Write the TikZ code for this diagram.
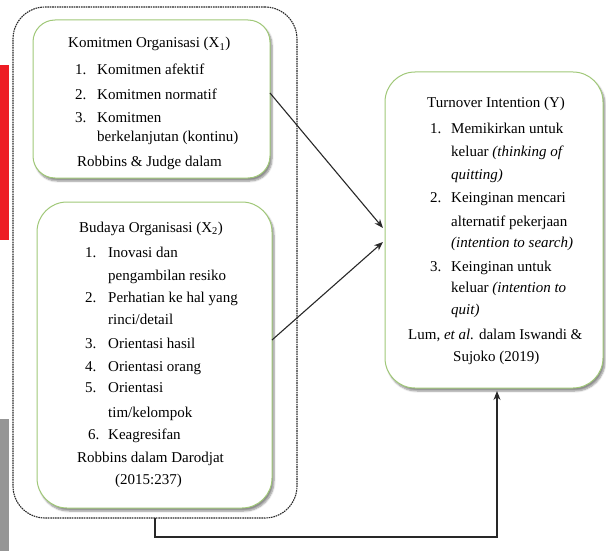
\documentclass[tikz,border=0pt]{standalone}
\usepackage{fontspec}
\setmainfont{Liberation Serif}
\usetikzlibrary{arrows.meta,shadows.blur}
\definecolor{boxgreen}{RGB}{160,200,120}
\definecolor{barred}{RGB}{237,28,36}
\definecolor{bargray}{RGB}{150,150,150}
\definecolor{linegray}{RGB}{40,40,40}
\tikzset{
  vbox/.style={draw=boxgreen, line width=1pt, fill=white, rounded corners=#1,
    blur shadow={shadow xshift=2pt, shadow yshift=-3pt, shadow blur steps=6, shadow opacity=45},
    inner sep=0, outer sep=0},
  grpbox/.style={draw=linegray, line width=1.1pt, dash pattern=on 1.6pt off 0.8pt,
    rounded corners=32pt, inner sep=0, outer sep=0},
  txt/.style={anchor=base west, inner sep=0, font=\fontsize{15}{18}\selectfont},
  conn/.style={draw=linegray, line width=1.1pt},
  arr/.style={conn, -{Stealth[length=9pt,width=7pt]}},
}
\begin{document}
\begin{tikzpicture}[x=1pt,y=-1pt]
\useasboundingbox (0,0) rectangle (606,551);
\fill[barred] (0,65) rectangle (9,240);
\fill[bargray] (0,419) rectangle (9,551);

\node[grpbox, minimum width=284pt, minimum height=511pt] (grp) at (155,262.5) {};
\node[vbox=22pt, minimum width=237pt, minimum height=158pt] (b1) at (151.5,99) {};
\node[vbox=30pt, minimum width=235pt, minimum height=306pt] (b2) at (154.5,355) {};
\node[vbox=30pt, minimum width=218pt, minimum height=316pt] (by) at (494,230) {};

% Box 1
\node[txt] (t1a) at (68,48) {Komitmen Organisasi (X\textsubscript{1})};
\node[txt] (t1b) at (75,75) {1.};
\node[txt] (t1c) at (97,75) {Komitmen afektif};
\node[txt] (t1d) at (75,100) {2.};
\node[txt] (t1e) at (97,100) {Komitmen normatif};
\node[txt] (t1f) at (75,123) {3.};
\node[txt] (t1g) at (97,123) {Komitmen};
\node[txt] (t1h) at (97,142) {berkelanjutan (kontinu)};
\node[txt] (t1i) at (77,167) {Robbins \& Judge dalam};

% Box 2
\node[txt] (t2a) at (79,232) {Budaya Organisasi (X\textsubscript{2})};
\node[txt] (t2b) at (85,257) {1.};
\node[txt] (t2c) at (108,257) {Inovasi dan};
\node[txt] (t2d) at (108,280) {pengambilan resiko};
\node[txt] (t2e) at (85,302) {2.};
\node[txt] (t2f) at (108,302) {Perhatian ke hal yang};
\node[txt] (t2g) at (108,324) {rinci/detail};
\node[txt] (t2h) at (85,348) {3.};
\node[txt] (t2i) at (108,348) {Orientasi hasil};
\node[txt] (t2j) at (85,371) {4.};
\node[txt] (t2k) at (108,371) {Orientasi orang};
\node[txt] (t2l) at (85,392) {5.};
\node[txt] (t2m) at (108,392) {Orientasi};
\node[txt] (t2n) at (108,417) {tim/kelompok};
\node[txt] (t2o) at (88,439) {6.};
\node[txt] (t2p) at (108,439) {Keagresifan};
\node[txt] (t2q) at (77,462) {Robbins dalam Darodjat};
\node[txt] (t2r) at (115,484) {(2015:237)};

% Box Y
\node[txt] (tya) at (427,107) {Turnover Intention (Y)};
\node[txt] (tyb) at (430,134) {1.};
\node[txt] (tyc) at (451,134) {Memikirkan untuk};
\node[txt] (tyd) at (451,157) {keluar \textit{(thinking of}};
\node[txt] (tye) at (451,179) {\textit{quitting)}};
\node[txt] (tyf) at (430,202) {2.};
\node[txt] (tyg) at (451,202) {Keinginan mencari};
\node[txt] (tyh) at (451,226) {alternatif pekerjaan};
\node[txt] (tyi) at (451,247) {\textit{(intention to search)}};
\node[txt] (tyj) at (430,271) {3.};
\node[txt] (tyk) at (451,271) {Keinginan untuk};
\node[txt] (tyl) at (451,292) {keluar \textit{(intention to}};
\node[txt] (tym) at (451,314) {\textit{quit)}};
\node[txt] (tyn) at (408,339) {Lum, \textit{et al.} dalam Iswandi \&};
\node[txt] (tyo) at (453,361) {Sujoko (2019)};

% Connectors
\draw[arr] ([yshift=6pt]b1.east) -- ([yshift=2pt,xshift=-2pt]by.west);
\draw[arr] ([yshift=15pt]b2.east) -- ([yshift=-12pt,xshift=-2pt]by.west);
\draw[arr] (grp.south) -- ++(0,19) -| ([xshift=3pt,yshift=-3pt]by.south);
\end{tikzpicture}
\end{document}
